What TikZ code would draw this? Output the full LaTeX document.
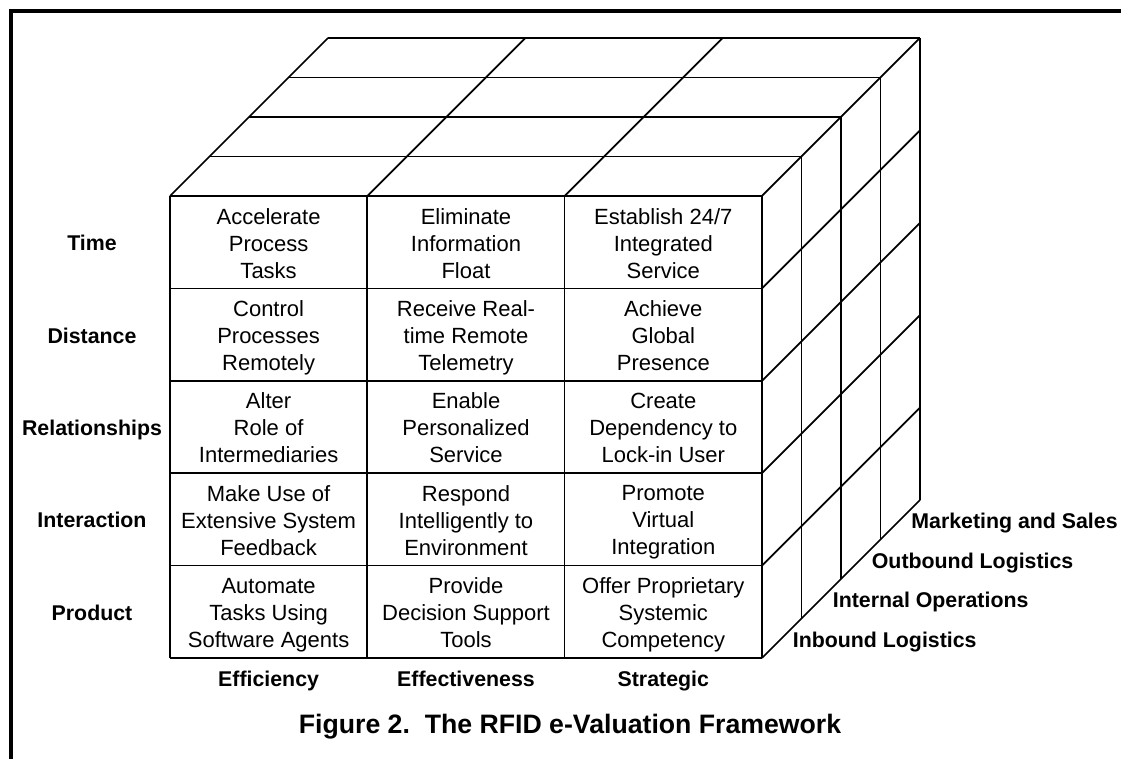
\documentclass[tikz,border=0pt]{standalone}
\usepackage{fontspec}
\setmainfont{Liberation Sans}
\tikzset{
  cell/.style={align=center,font=\fontsize{16.5}{20.3}\selectfont,
    execute at begin node=\strut,execute at end node=\strut},
  axislabel/.style={font=\fontsize{16}{19}\selectfont\bfseries,anchor=base},
  layerlabel/.style={axislabel,anchor=base west,inner sep=0pt},
}
\begin{document}
\begin{tikzpicture}[x=0.75pt,y=-0.75pt,line width=1.3pt,line join=round]
\useasboundingbox (0,0) rectangle (1121,759);
%% frame
\draw[line width=3pt,line join=miter] (1121,11) -- (10.5,11) -- (10.5,759);
%% front face
\foreach \i in {0,...,3} \draw (170+\i*197.3,196) -- (170+\i*197.3,658);
\foreach \j in {0,...,5} \draw (170,196+\j*92.4) -- (762,196+\j*92.4);
%% top face
\foreach \k in {1,...,4} \draw (170+\k*39.5,196-\k*39.5) -- (762+\k*39.5,196-\k*39.5);
\foreach \i in {0,...,3} \draw (170+\i*197.3,196) -- ++(158,-158);
%% right face
\foreach \k in {1,...,4} \draw (762+\k*39.5,196-\k*39.5) -- ++(0,462);
\foreach \j in {1,...,5} \draw (762,196+\j*92.4) -- ++(158,-158);
%% row labels
\foreach \lab [count=\j from 0] in {Time,Distance,Relationships,Interaction,Product}
  \node[axislabel] (row\j) at (92,250.7+\j*92.4) {\lab};
%% cells
\node[cell] (time1) at (268.6,247.2) {Accelerate\\Process\\Tasks};
\node[cell] (time2) at (466,247.2) {Eliminate\\Information\\Float};
\node[cell] (time3) at (663.3,247.2) {Establish 24/7\\Integrated\\Service};
\node[cell] (dist1) at (268.6,339.6) {Control\\Processes\\Remotely};
\node[cell] (dist2) at (466,339.6) {Receive Real-\\time Remote\\Telemetry};
\node[cell] (dist3) at (663.3,339.6) {Achieve\\Global\\Presence};
\node[cell] (rel1) at (268.6,432) {Alter\\Role of\\Intermediaries};
\node[cell] (rel2) at (466,432) {Enable\\Personalized\\Service};
\node[cell] (rel3) at (663.3,432) {Create\\Dependency to\\Lock-in User};
\node[cell] (inter1) at (268.6,524.4) {Make Use of\\Extensive System\\Feedback};
\node[cell] (inter2) at (466,524.4) {Respond\\Intelligently to\\Environment};
\node[cell] (inter3) at (663.3,524.4) {Promote\\Virtual\\Integration};
\node[cell] (prod1) at (268.6,616.8) {Automate\\Tasks Using\\Software Agents};
\node[cell] (prod2) at (466,616.8) {Provide\\Decision Support\\Tools};
\node[cell] (prod3) at (663.3,616.8) {Offer Proprietary\\Systemic\\Competency};
%% column labels
\node[axislabel] (eff) at (268.6,686) {Efficiency};
\node[axislabel] (effect) at (466,686) {Effectiveness};
\node[axislabel] (strat) at (663.3,686) {Strategic};
%% layer labels
\node[layerlabel] (inbound) at (792,647) {Inbound Logistics};
\node[layerlabel] (internal) at (832,607.5) {Internal Operations};
\node[layerlabel] (outbound) at (871,568) {Outbound Logistics};
\node[layerlabel] (marketing) at (910.5,528.5) {Marketing and Sales};
%% title
\node[font=\fontsize{20}{24}\selectfont\bfseries,anchor=base] (title) at (570,733) {Figure 2.\ \ The RFID e-Valuation Framework};
\end{tikzpicture}
\end{document}
